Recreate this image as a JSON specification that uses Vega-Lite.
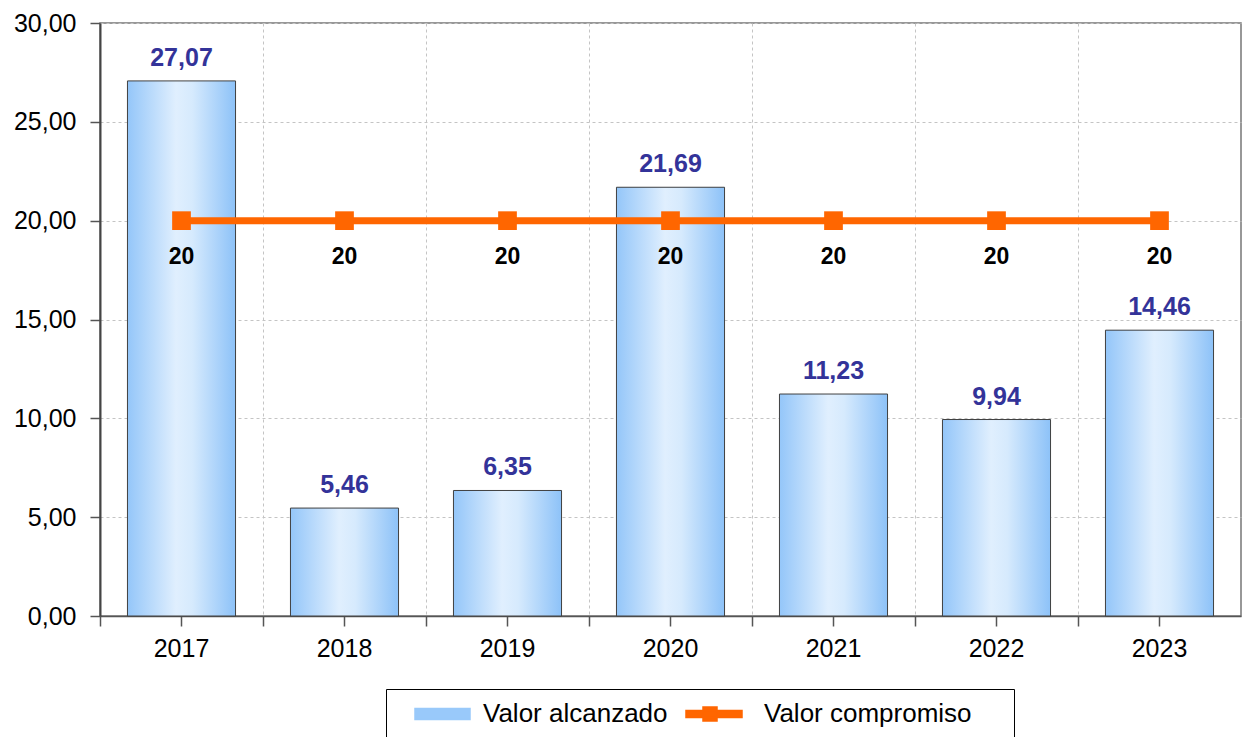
{
  "$schema": "https://vega.github.io/schema/vega-lite/v6.json",
  "autosize": {"type": "none"},
  "padding": {"left": 100, "top": 23, "right": 1, "bottom": 121},
  "width": 1141,
  "height": 593,
  "background": "#ffffff",
  "config": {
    "locale": {"number": {"decimal": ",", "thousands": ".", "grouping": [3], "currency": ["", " €"]}},
    "font": "Liberation Sans",
    "view": {"stroke": "#777777", "strokeWidth": 1.5},
    "axis": {"labelFont": "Liberation Sans", "labelFontSize": 25, "labelColor": "#000000", "domainColor": "#555555", "domainWidth": 1.5, "tickColor": "#555555", "tickWidth": 1.5, "tickSize": 10, "gridColor": "#c4c4c4", "gridDash": [3, 3], "gridWidth": 1, "title": null}
  },
  "data": {"values": [
    {"anio": "2017", "valor": 27.07, "compromiso": 20},
    {"anio": "2018", "valor": 5.46, "compromiso": 20},
    {"anio": "2019", "valor": 6.35, "compromiso": 20},
    {"anio": "2020", "valor": 21.69, "compromiso": 20},
    {"anio": "2021", "valor": 11.23, "compromiso": 20},
    {"anio": "2022", "valor": 9.94, "compromiso": 20},
    {"anio": "2023", "valor": 14.46, "compromiso": 20}
  ]},
  "resolve": {"axis": {"x": "independent"}},
  "layer": [
    {
      "mark": {"type": "bar", "strokeWidth": 0},
      "encoding": {
        "x": {"field": "anio", "type": "ordinal", "scale": {"paddingInner": 0.337, "paddingOuter": 0.1685},
              "axis": {"orient": "bottom", "bandPosition": -0.2541, "grid": true, "labels": false, "ticks": true, "domain": true}},
        "y": {"field": "valor", "type": "quantitative", "scale": {"domain": [0, 30], "nice": false},
              "axis": {"values": [0, 5, 10, 15, 20, 25, 30], "format": ".2f", "grid": true, "labelPadding": 14, "domainColor": "#444444", "domainWidth": 2}},
        "color": {"datum": "Valor alcanzado", "type": "nominal",
          "scale": {"domain": ["Valor alcanzado", "Valor compromiso"], "range": ["#99c9fa", "#ff6600"]},
          "legend": {
            "orient": "none", "legendX": 286, "legendY": 666, "direction": "horizontal",
            "title": "\u00a0", "titleOrient": "right", "titlePadding": 30, "titleFontSize": 26,
            "strokeColor": "#000000", "padding": 12, "fillColor": "#ffffff",
            "labelFont": "Liberation Sans", "labelFontSize": 26, "labelColor": "#000000", "labelLimit": 500,
            "symbolSize": 400, "labelOffset": 59, "columnPadding": 11, "symbolOpacity": 1,
            "symbolStrokeColor": "#555555", "symbolStrokeWidth": 1.5,
            "encode": {"symbols": {"update": {
              "shape": {"signal": "datum.value === 'Valor alcanzado' ? 'M0.4,-0.55H5.9V0.55H0.4Z' : 'M-0.6,-0.35H5.0V0.35H-0.6Z M1.1,-0.7H2.5V0.7H1.1Z'"},
              "fill": {"signal": "datum.value === 'Valor alcanzado' ? '#99ccff' : '#ff6600'"},
              "stroke": {"signal": "datum.value === 'Valor alcanzado' ? '#555555' : '#ff6600'"},
              "strokeWidth": {"value": 1.5},
              "opacity": {"value": 1}
            }}}
          }}
      }
    },
    {
      "mark": {"type": "bar", "stroke": "#404040", "strokeWidth": 1,
        "color": {"gradient": "linear", "x1": 0, "x2": 1, "y1": 0, "y2": 0,
          "stops": [{"offset": 0, "color": "#94c6f9"}, {"offset": 0.45, "color": "#e0effe"}, {"offset": 0.6, "color": "#d6eafd"}, {"offset": 1, "color": "#8dc2f8"}]}},
      "encoding": {
        "x": {"field": "anio", "type": "ordinal",
              "axis": {"orient": "bottom", "bandPosition": 0.5, "grid": false, "labels": true, "ticks": true, "domain": false, "labelAngle": 0, "labelPadding": 10}},
        "y": {"field": "valor", "type": "quantitative"}
      }
    },
    {
      "mark": {"type": "text", "baseline": "alphabetic", "dy": -15, "fontSize": 25, "fontWeight": "bold", "color": "#333399", "font": "Liberation Sans"},
      "encoding": {
        "x": {"field": "anio", "type": "ordinal", "axis": null},
        "y": {"field": "valor", "type": "quantitative"},
        "text": {"field": "valor", "type": "quantitative", "format": ".2f"}
      }
    },
    {
      "mark": {"type": "line", "strokeWidth": 7, "point": {"shape": "square", "filled": true, "size": 350, "opacity": 1}},
      "encoding": {
        "x": {"field": "anio", "type": "ordinal", "axis": null},
        "y": {"field": "compromiso", "type": "quantitative"},
        "color": {"datum": "Valor compromiso", "type": "nominal"}
      }
    },
    {
      "mark": {"type": "text", "baseline": "middle", "dy": 36, "fontSize": 23, "fontWeight": "bold", "color": "#000000", "font": "Liberation Sans"},
      "encoding": {
        "x": {"field": "anio", "type": "ordinal", "axis": null},
        "y": {"field": "compromiso", "type": "quantitative"},
        "text": {"field": "compromiso", "type": "quantitative", "format": "d"}
      }
    }
  ]
}
